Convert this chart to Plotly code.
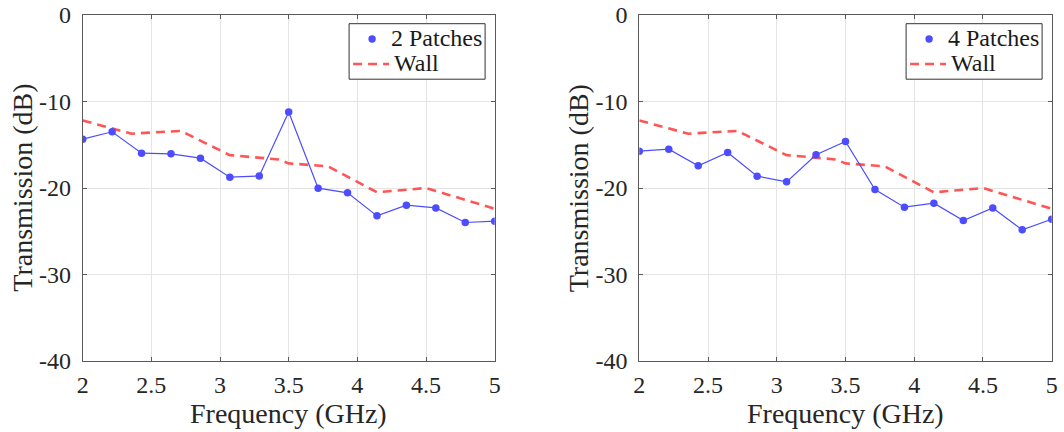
import numpy as np
import plotly.graph_objects as go

# Measurement frequencies (GHz) for the patch configurations
freq = np.linspace(2.0, 5.0, 15)

# Transmission (dB) through the wall with 2 patches and with 4 patches
patches2 = [-14.35, -13.5, -15.97, -16.05, -16.55, -18.75, -18.6, -11.22,
            -20.02, -20.56, -23.22, -21.99, -22.3, -23.99, -23.84]
patches4 = [-15.74, -15.51, -17.44, -15.89, -18.63, -19.29, -16.16, -14.62,
            -20.17, -22.22, -21.75, -23.76, -22.3, -24.84, -23.61]

# Bare-wall reference transmission
wall_freq = [2.0, 2.357, 2.714, 3.071, 3.429, 3.5, 3.786, 4.143, 4.5, 5.0]
wall = [-12.2, -13.72, -13.4, -16.2, -16.7, -17.15, -17.5, -20.5, -20.0, -22.4]

panel_names = ["2 Patches", "4 Patches"]
panel_data = [patches2, patches4]

x_ticks = [2, 2.5, 3, 3.5, 4, 4.5, 5]
x_tick_labels = ["2", "2.5", "3", "3.5", "4", "4.5", "5"]
y_ticks = [0, -10, -20, -30, -40]
y_tick_labels = ["0", "-10", "-20", "-30", "-40"]

BLUE = "rgb(77,77,255)"
RED = "rgb(255,85,85)"
AXIS = "#5a5a5a"
GRID = "#e4e4e4"
FONT = "Liberation Serif, Times New Roman, serif"
TEXT = "#262626"
DASH = "9px,6px"

W, H = 1064, 432
# plot-area pixel boxes (left, right), shared top/bottom
boxes = [(82.7, 494.7), (639.3, 1051.7)]
top, bottom = 15, 361


def px(x):
    return x / W


def py(y):
    return 1 - y / H


fig = go.Figure()

for i, (name, vals) in enumerate(zip(panel_names, panel_data)):
    xa = "x" if i == 0 else "x2"
    ya = "y" if i == 0 else "y2"
    fig.add_trace(go.Scatter(
        x=wall_freq, y=wall, mode="lines", name="Wall",
        line=dict(color=RED, width=2.6, dash=DASH),
        xaxis=xa, yaxis=ya, showlegend=False))
    fig.add_trace(go.Scatter(
        x=freq, y=vals, mode="lines+markers", name=name,
        line=dict(color=BLUE, width=1.2),
        marker=dict(color=BLUE, size=7.5),
        xaxis=xa, yaxis=ya, showlegend=False))

axis_common = dict(
    automargin=False,
    showline=True, linecolor=AXIS, linewidth=1, mirror="ticks",
    ticks="inside", ticklen=4, tickcolor=AXIS,
    showgrid=True, gridcolor=GRID, gridwidth=1, zeroline=False,
    tickfont=dict(family=FONT, size=24, color=TEXT),
)

layout = dict(
    template="none",
    width=W, height=H, margin=dict(l=0, r=0, t=0, b=0),
    paper_bgcolor="white", plot_bgcolor="white",
    font=dict(family=FONT, color=TEXT),
    showlegend=False,
)

annotations = []
shapes = []
for i, (l, r) in enumerate(boxes):
    sfx = "" if i == 0 else "2"
    layout["xaxis" + sfx] = dict(
        axis_common, domain=[px(l), px(r)], range=[2, 5],
        tickvals=x_ticks, ticktext=x_tick_labels, ticklabelstandoff=2,
        anchor="y" + sfx)
    layout["yaxis" + sfx] = dict(
        axis_common, domain=[py(bottom), py(top)], range=[-40, 0],
        tickvals=y_ticks, ticktext=y_tick_labels, ticklabelstandoff=6,
        anchor="x" + sfx)

    # legend box in the upper-right corner of each panel
    bx1 = r - 9.6
    bx0 = bx1 - 136
    by0, by1 = 23.7, 79.2
    shapes.append(dict(type="rect", xref="paper", yref="paper",
                       x0=px(bx0), x1=px(bx1), y0=py(by1), y1=py(by0),
                       line=dict(color="#333333", width=1),
                       fillcolor="white", layer="above"))
    mx, my, mr = bx0 + 23, 39, 3.7
    shapes.append(dict(type="circle", xref="paper", yref="paper",
                       x0=px(mx - mr), x1=px(mx + mr),
                       y0=py(my + mr), y1=py(my - mr),
                       line=dict(width=0), fillcolor=BLUE, layer="above"))
    shapes.append(dict(type="line", xref="paper", yref="paper",
                       x0=px(bx0 + 4), x1=px(bx0 + 40),
                       y0=py(64), y1=py(64),
                       line=dict(color=RED, width=2.6, dash=DASH),
                       layer="above"))
    annotations.append(dict(
        text=panel_names[i], xref="paper", yref="paper",
        x=px(bx0 + 40), y=py(38.5), xanchor="left", yanchor="middle",
        showarrow=False, font=dict(family=FONT, size=24, color="#1a1a1a")))
    annotations.append(dict(
        text="Wall", xref="paper", yref="paper",
        x=px(bx0 + 43), y=py(63.5), xanchor="left", yanchor="middle",
        showarrow=False, font=dict(family=FONT, size=24, color="#1a1a1a")))

    # axis titles
    annotations.append(dict(
        text="Frequency (GHz)", xref="paper", yref="paper",
        x=px((l + r) / 2), y=py(413), xanchor="center", yanchor="middle",
        showarrow=False, font=dict(family=FONT, size=28, color=TEXT)))
    annotations.append(dict(
        text="Transmission (dB)", xref="paper", yref="paper",
        x=px(l - 60), y=py((top + bottom) / 2),
        xanchor="center", yanchor="middle", textangle=-90,
        showarrow=False, font=dict(family=FONT, size=28, color=TEXT)))

layout["annotations"] = annotations
layout["shapes"] = shapes
fig.update_layout(**layout)
fig.write_html("out.html")
